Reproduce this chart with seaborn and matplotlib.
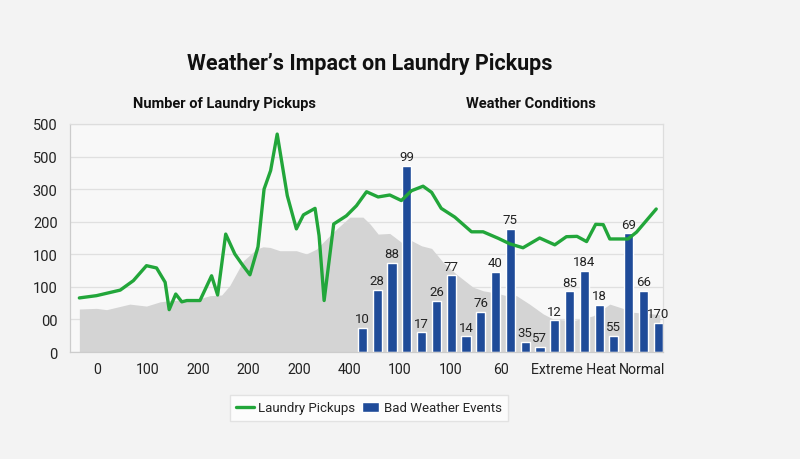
import matplotlib
matplotlib.use("Agg")
import matplotlib.pyplot as plt
import seaborn as sns
import numpy as np
import pandas as pd

# ---- data (hidden linear scales) ----
y_ticks = [0, 100, 200, 300, 400, 500, 600, 700]
y_tick_labels = ["0", "00", "100", "100", "200", "300", "500", "500"]
x_ticks = [0, 1, 2, 3, 4, 5, 6, 7, 8, 9.45, 10.79]
x_tick_labels = ["0", "100", "200", "200", "200", "400", "100", "100", "60",
                 "Extreme Heat", "Normal"]

pickup_x = [-0.35, -0.01, 0.46, 0.72, 0.98, 1.18, 1.35, 1.43, 1.56, 1.68, 1.78,
            2.04, 2.27, 2.39, 2.55, 2.73, 2.87, 3.03, 3.19, 3.31, 3.44, 3.57,
            3.77, 3.95, 4.09, 4.32, 4.40, 4.50, 4.69, 4.94, 5.14, 5.34, 5.57,
            5.80, 6.03, 6.23, 6.46, 6.63, 6.82, 7.09, 7.42, 7.65, 7.95, 8.18,
            8.44, 8.77, 9.07, 9.30, 9.51, 9.70, 9.88, 10.03, 10.16, 10.52,
            10.69, 11.08]
pickup_y = [166, 173, 190, 219, 265, 258, 214, 130, 178, 154, 158,
            158, 234, 175, 362, 301, 270, 237, 323, 500, 557, 669,
            480, 378, 421, 441, 357, 158, 393, 418, 449, 492, 476,
            482, 465, 495, 509, 490, 441, 414, 369, 369, 349, 332,
            320, 350, 329, 354, 355, 339, 392, 391, 347, 347,
            368, 439]

area_x = [-0.35, -0.01, 0.19, 0.65, 0.98, 1.25, 1.45, 1.97, 2.24, 2.47, 2.63,
          2.90, 3.16, 3.29, 3.43, 3.62, 3.95, 4.15, 4.35, 4.48, 4.75, 5.01,
          5.27, 5.41, 5.57, 5.80, 6.03, 6.23, 6.43, 6.63, 6.86, 7.12, 7.45,
          7.65, 7.91, 8.11, 8.31, 8.57, 8.84, 9.04, 9.43, 9.83, 10.16, 10.42,
          10.62, 11.01, 11.15]
area_y = [132, 134, 130, 147, 141, 154, 158, 161, 173, 175, 204,
          280, 316, 323, 321, 311, 311, 301, 316, 337, 378, 414,
          414, 393, 362, 364, 337, 342, 326, 318, 275, 239, 199,
          188, 181, 173, 173, 147, 117, 101, 96, 111, 147, 134,
          122, 117, 114]

bar_x = [5.26, 5.553, 5.846, 6.139, 6.432, 6.725, 7.018, 7.311, 7.604, 7.897,
         8.19, 8.483, 8.776, 9.069, 9.362, 9.655, 9.948, 10.241, 10.534,
         10.827, 11.12]
bar_y = [73, 190, 274, 572, 60, 156, 235, 48, 124, 245,
         378, 30, 15, 97, 186, 250, 144, 50, 364, 188, 90]
bar_labels = ["10", "28", "88", "99", "17", "26", "77", "14", "76", "40",
              "75", "35", "57", "12", "85", "184", "18", "55", "69", "66", "170"]

# ---- style ----
sns.set_theme(style="white")
plt.rcParams["font.family"] = ["Roboto", "DejaVu Sans"]

GREEN = "#22a63a"
NAVY = "#1f4b99"
AREA = "#d4d4d4"

fig = plt.figure(figsize=(8, 4.6), dpi=100, facecolor="#f3f3f3")
ax = fig.add_axes([0.0875, 0.2326, 0.741, 0.4957])
ax.set_facecolor("#f8f8f8")

ax.fill_between(area_x, area_y, 0, color=AREA, linewidth=0, zorder=1)

bars_df = pd.DataFrame({"x": bar_x, "y": bar_y})
sns.barplot(data=bars_df, x="x", y="y", native_scale=True, color=NAVY,
            saturation=1, width=0.62, ax=ax, zorder=2, label="Bad Weather Events")

line_df = pd.DataFrame({"x": pickup_x, "y": pickup_y})
sns.lineplot(data=line_df, x="x", y="y", color=GREEN, linewidth=2.4,
             ax=ax, zorder=3, sort=False, label="Laundry Pickups")

for bx, by, lab in zip(bar_x, bar_y, bar_labels):
    ax.annotate(lab, (bx, by), xytext=(0, 2), textcoords="offset points",
                ha="center", va="bottom", fontsize=9.5, color="#222222", zorder=4)

ax.set_xlim(-0.535, 11.21)
ax.set_ylim(0, 700)
ax.set_yticks(y_ticks)
ax.set_yticklabels(y_tick_labels)
ax.set_xticks(x_ticks)
ax.set_xticklabels(x_tick_labels)
ax.set_xlabel("")
ax.set_ylabel("")
ax.grid(axis="y", color="#e0e0e0", linewidth=0.9, zorder=0)
ax.set_axisbelow(True)
ax.tick_params(axis="y", length=0, pad=9, labelsize=10.5, colors="#222222")
ax.tick_params(axis="x", length=4, width=0.8, color="#aaaaaa", pad=3,
               labelsize=10.2, labelcolor="#222222")
for side in ["top", "right"]:
    ax.spines[side].set_color("#dddddd")
    ax.spines[side].set_linewidth(0.9)
for side in ["left", "bottom"]:
    ax.spines[side].set_color("#cccccc")
    ax.spines[side].set_linewidth(0.9)

leg = ax.legend(loc="center", bbox_to_anchor=(369 / 800, 1 - 409 / 460),
                bbox_transform=fig.transFigure, ncol=2, frameon=True,
                fontsize=9.5, handlelength=1.3, handletextpad=0.35,
                columnspacing=0.5, borderpad=0.5, fancybox=False)
leg.get_frame().set_edgecolor("#dddddd")
leg.get_frame().set_facecolor("#ffffff")

fig.text(370 / 800, 1 - 64 / 460, "Weather\u2019s Impact on Laundry Pickups",
         ha="center", va="center", fontsize=15.5, fontweight="bold", color="#111111")
fig.text(224 / 800, 1 - 104 / 460, "Number of Laundry Pickups",
         ha="center", va="center", fontsize=10.5, fontweight="bold", color="#111111")
fig.text(531 / 800, 1 - 104 / 460, "Weather Conditions",
         ha="center", va="center", fontsize=10.5, fontweight="bold", color="#111111")

fig.savefig("out.png", dpi=100, facecolor=fig.get_facecolor())
